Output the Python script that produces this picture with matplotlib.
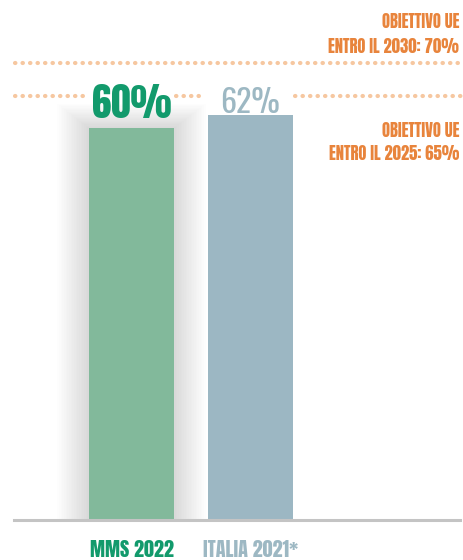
import matplotlib.pyplot as plt
from matplotlib.patches import Rectangle

# data
categories = ["MMS 2022", "ITALIA 2021*"]
values = [60, 62]
value_labels = ["60%", "62%"]
targets = [70, 65]
target_labels = [["OBIETTIVO UE", "ENTRO IL 2030: 70%"],
                 ["OBIETTIVO UE", "ENTRO IL 2025: 65%"]]

bar_colors = ["#82b99b", "#9cb7c3"]
text_colors = ["#129a6c", "#9db8c3"]
orange = "#e8843c"
dot_color = "#f6c7a0"
BOLD = ["Anton", "Bebas Neue", "DejaVu Sans"]
LIGHT = ["Oswald", "DejaVu Sans"]

fig = plt.figure(figsize=(4.63, 5.6), dpi=100)
ax = fig.add_axes([0, 40 / 560, 1, 520 / 560])
px_per_unit = 6.53
ax.set_ylim(0, 520 / px_per_unit)
ax.set_xlim(-131.5 / 119, (463 - 131.5) / 119)
ax.axis("off")

xs = list(range(len(categories)))
width = 85 / 119

# soft shadow behind the first bar
for i in range(20):
    grow = i * 0.014
    ax.add_patch(Rectangle((xs[0] - width / 2 - grow, 0), width + 2 * grow,
                           values[0] + grow * 14, color="#000000",
                           alpha=0.006, lw=0, zorder=1))

ax.bar(xs, values, width=width, color=bar_colors, zorder=3)

# baseline
ax.axhline(0, xmin=14 / 463, xmax=460 / 463, color="#c4c4c4", lw=2.2,
           zorder=4, clip_on=False)

# dotted target lines
dots = dict(color=dot_color, lw=3, dash_capstyle="round",
            linestyle=(0, (0.1, 1.7)), zorder=2)
ax.plot([-0.98, 2.8], [targets[0]] * 2, **dots)
ax.plot([-0.98, -0.37], [targets[1]] * 2, **dots)
ax.plot([0.37, 0.6], [targets[1]] * 2, **dots)
ax.plot([1.37, 2.8], [targets[1]] * 2, **dots)

# value labels
ax.annotate(value_labels[0], (xs[0], values[0]), xytext=(0, 7.2),
            textcoords="offset points", ha="center", va="baseline",
            fontsize=28, color=text_colors[0], family=BOLD)
ax.annotate(value_labels[1], (xs[1], values[1]), xytext=(0, 1.5),
            textcoords="offset points", ha="center", va="baseline",
            fontsize=23, color=text_colors[1], family=LIGHT)

# category labels
for x, cat, c in zip(xs, categories, text_colors):
    ax.annotate(cat, (x, 0), xytext=(0, -26.5), textcoords="offset points",
                ha="center", va="baseline", fontsize=14.5,
                color=c, family=BOLD, annotation_clip=False)

# target labels (right aligned)
xr = 459 / 463
tr = ax.get_yaxis_transform()
lab = dict(xycoords=tr, textcoords="offset points", ha="right",
           va="baseline", fontsize=12, color=orange, family=BOLD,
           annotation_clip=False)
ax.annotate(target_labels[0][0], (xr, targets[0]), xytext=(0, 25.2), **lab)
ax.annotate(target_labels[0][1], (xr, targets[0]), xytext=(0, 7.2), **lab)
ax.annotate(target_labels[1][0], (xr, targets[1]), xytext=(0, -30), **lab)
ax.annotate(target_labels[1][1], (xr, targets[1]), xytext=(0, -46.5), **lab)

fig.savefig("out.png", dpi=100)
